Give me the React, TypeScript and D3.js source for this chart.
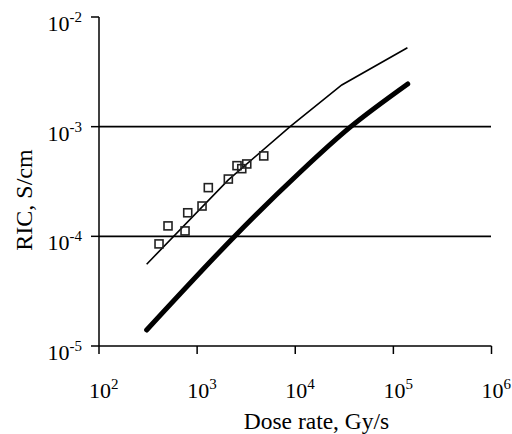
import React from "react";
import * as d3 from "d3";

const xTicks = [1e2, 1e3, 1e4, 1e5, 1e6];
const xTickExp = ["2", "3", "4", "5", "6"];
const yTicks = [1e-5, 1e-4, 1e-3, 1e-2];
const yTickExp = ["-5", "-4", "-3", "-2"];
const gridValues = [1e-4, 1e-3];

// thin calculated curve
const thinDose = [306, 2080, 8850, 29800, 139000];
const thinRic = [5.57e-5, 3.27e-4, 1.0e-3, 2.4e-3, 5.25e-3];

// thick calculated curve
const thickDose = [306, 2390, 11190, 36800, 140000];
const thickRic = [1.4e-5, 9.93e-5, 3.84e-4, 1.0e-3, 2.45e-3];

// experimental points
const expDose = [409, 505, 753, 802, 1122, 1300, 2080, 2550, 2850, 3205, 4775];
const expRic = [8.53e-5, 1.245e-4, 1.12e-4, 1.64e-4, 1.89e-4, 2.78e-4, 3.33e-4, 4.41e-4, 4.14e-4, 4.57e-4, 5.41e-4];

export default function App() {
  const W = 512, H = 434;
  const x = d3.scaleLog().domain([1e2, 1e6]).range([99, 491.5]);
  const y = d3.scaleLog().domain([1e-5, 1e-2]).range([346, 17]);
  const line = d3
    .line<[number, number]>()
    .x((d) => x(d[0]))
    .y((d) => y(d[1]));
  const smooth = d3
    .line<[number, number]>()
    .x((d) => x(d[0]))
    .y((d) => y(d[1]))
    .curve(d3.curveCatmullRom.alpha(0.5));
  const thin = thinDose.map((d, i) => [d, thinRic[i]] as [number, number]);
  const thick = thickDose.map((d, i) => [d, thickRic[i]] as [number, number]);
  const font = "'Liberation Serif', 'Times New Roman', serif";
  const s = 8;
  return (
    <svg
      width={W}
      height={H}
      style={{ position: "absolute", left: 0, top: 0, background: "#fff" }}
      fontFamily={font}
    >
      {gridValues.map((g) => (
        <line key={g} x1={99} x2={491} y1={y(g)} y2={y(g)} stroke="#000" strokeWidth={1.8} />
      ))}
      <line x1={99} x2={99} y1={17} y2={346} stroke="#000" strokeWidth={1.5} />
      <line x1={99} x2={491.5} y1={346} y2={346} stroke="#000" strokeWidth={1.5} />
      {yTicks.map((t, i) => (
        <g key={t}>
          <line x1={91} x2={99} y1={y(t)} y2={y(t)} stroke="#000" strokeWidth={1.5} />
          <text x={82} y={y(t) + 14} textAnchor="end" fontSize={22}>
            10
            <tspan fontSize={15} dy={-9}>
              {yTickExp[i]}
            </tspan>
          </text>
        </g>
      ))}
      {xTicks.map((t, i) => (
        <g key={t}>
          <line x1={x(t)} x2={x(t)} y1={346} y2={354} stroke="#000" strokeWidth={1.5} />
          <text x={x(t) - 10} y={398} textAnchor="start" fontSize={22}>
            10
            <tspan fontSize={15} dy={-9}>
              {xTickExp[i]}
            </tspan>
          </text>
        </g>
      ))}
      <path d={line(thin) || ""} fill="none" stroke="#000" strokeWidth={1.6} />
      <path
        d={smooth(thick) || ""}
        fill="none"
        stroke="#000"
        strokeWidth={5}
        strokeLinecap="round"
        strokeLinejoin="round"
      />
      {expDose.map((d, i) => (
        <rect
          key={i}
          x={x(d) - s / 2}
          y={y(expRic[i]) - s / 2}
          width={s}
          height={s}
          fill="none"
          stroke="#222"
          strokeWidth={1.6}
        />
      ))}
      <text x={316.5} y={429} textAnchor="middle" fontSize={23.5}>
        Dose rate, Gy/s
      </text>
      <text
        transform={`translate(32,200) rotate(-90)`}
        textAnchor="middle"
        fontSize={24}
      >
        RIC, S/cm
      </text>
    </svg>
  );
}
